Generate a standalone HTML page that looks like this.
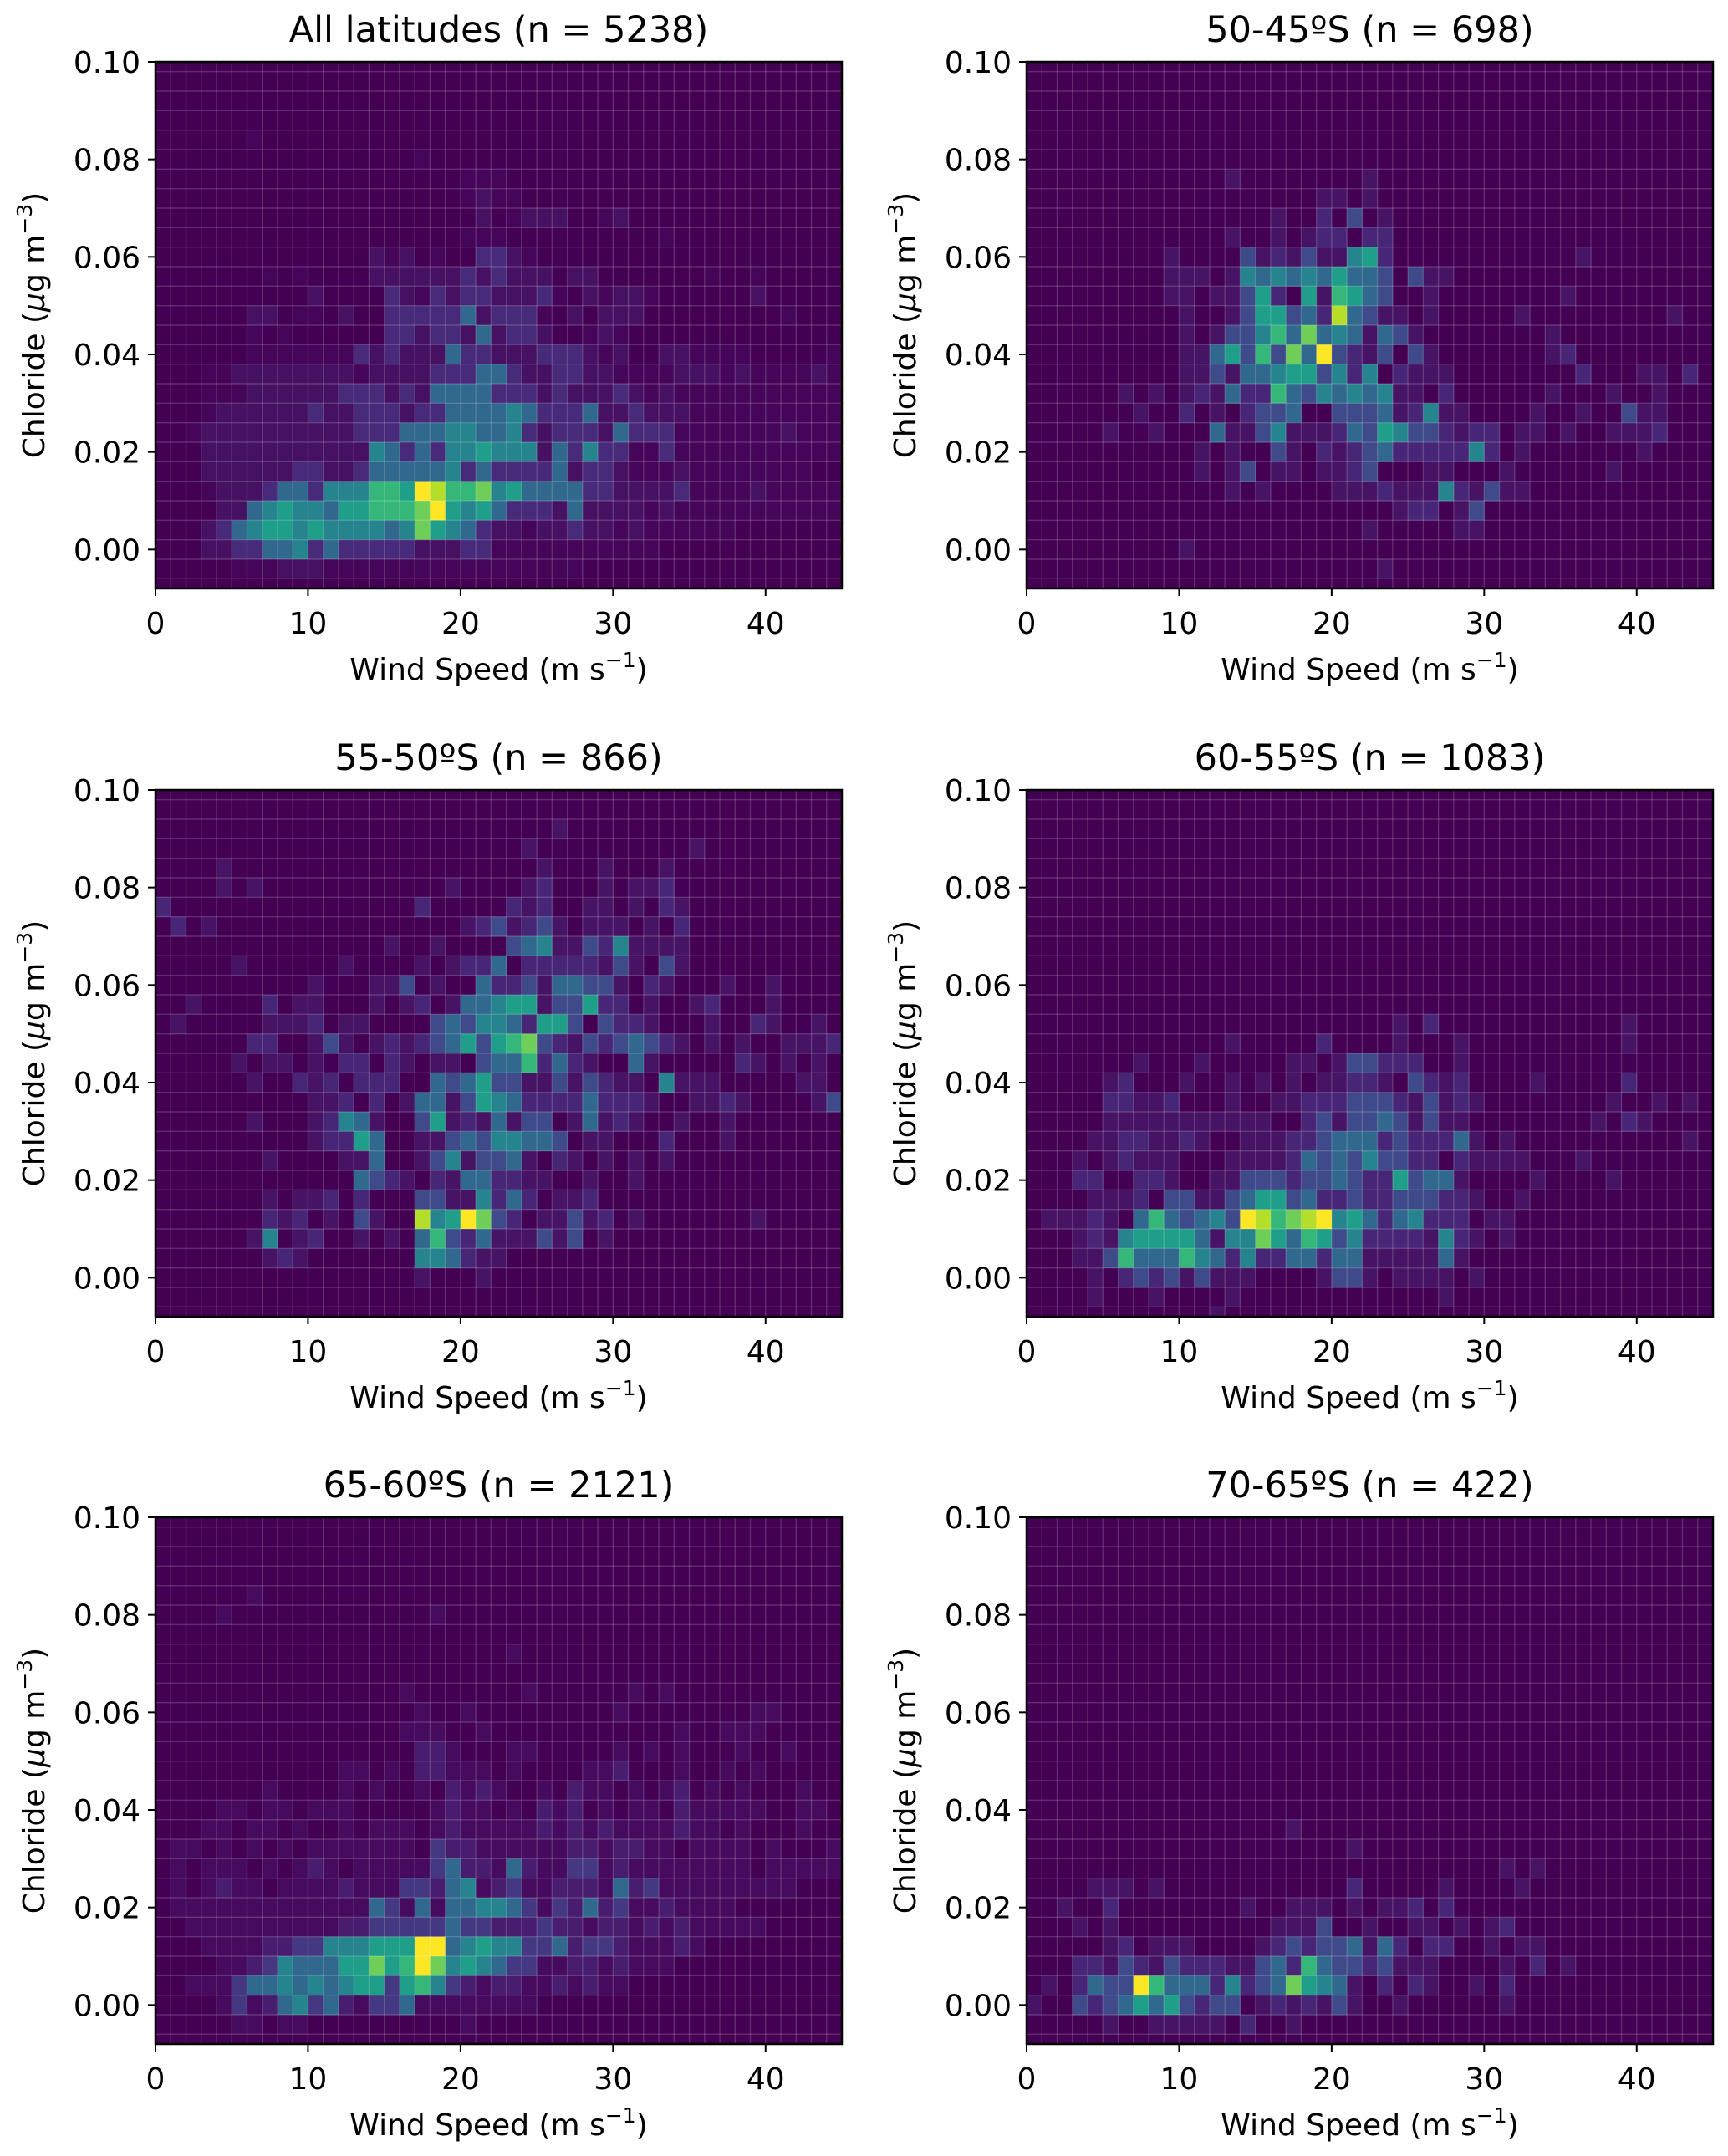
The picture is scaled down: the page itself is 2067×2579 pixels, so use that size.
<!DOCTYPE html>
<html><head><meta charset="utf-8">
<style>
html,body{margin:0;padding:0;background:#fff;}
svg{display:block;}
text{font-family:"DejaVu Sans","Liberation Sans",sans-serif;fill:#000;}
</style></head>
<body>
<svg id="s" xmlns="http://www.w3.org/2000/svg" width="2067" height="2579" viewBox="0 0 2067 2579">
<defs>
<clipPath id="c0"><rect x="186" y="74" width="821" height="630"/></clipPath>
<clipPath id="c1"><rect x="1228" y="74" width="821" height="630"/></clipPath>
<clipPath id="c2"><rect x="186" y="945" width="821" height="630"/></clipPath>
<clipPath id="c3"><rect x="1228" y="945" width="821" height="630"/></clipPath>
<clipPath id="c4"><rect x="186" y="1815" width="821" height="630"/></clipPath>
<clipPath id="c5"><rect x="1228" y="1815" width="821" height="630"/></clipPath>
</defs>
<g id="cells"></g>
<g font-size="43" text-anchor="middle">
<text x="596.5" y="50">All latitudes (n = 5238)</text>
<text x="1638.5" y="50">50-45ºS (n = 698)</text>
<text x="596.5" y="921">55-50ºS (n = 866)</text>
<text x="1638.5" y="921">60-55ºS (n = 1083)</text>
<text x="596.5" y="1791">65-60ºS (n = 2121)</text>
<text x="1638.5" y="1791">70-65ºS (n = 422)</text>
</g>
<g id="axes"></g>
</svg>
<script>
(function(){
var COL={'0':'#440154','1':'#471365','2':'#482677','3':'#3e4a89','4':'#30688e','5':'#25848e','6':'#1f9e89','7':'#35b779','8':'#6ece58','9':'#b5de2b','Y':'#fde725'};
var COLD={'0':'#440154','1':'#450559','2':'#471163','3':'#472a7a','4':'#30688e','5':'#25848e','6':'#1f9e89','7':'#35b779','8':'#6ece58','9':'#b5de2b','Y':'#fde725'};
var COLM={'0':'#440154','1':'#460b5e','2':'#481d6f','3':'#453882','4':'#30688e','5':'#25848e','6':'#1f9e89','7':'#35b779','8':'#6ece58','9':'#b5de2b','Y':'#fde725'};
var p1=[
"00000 00000 00000 00000 00000 00000 00000 00000 00000",
"00000 00000 00000 00000 00000 00000 00000 00000 00000",
"00000 00000 00000 00000 00000 00000 00000 00000 00000",
"00000 00000 00000 00000 00000 00000 00000 00000 00000",
"00000 01000 00000 00000 00000 00000 00000 00000 00000",
"00000 00000 00000 00100 00000 00000 00000 00000 00000",
"00000 00000 00000 00000 11100 00000 00000 00000 00000",
"00000 00000 00000 00000 12110 00000 00000 00000 00000",
"00000 00000 00000 00000 02012 22001 20000 00000 00000",
"00000 00000 00000 00000 11100 00000 00010 00000 00000",
"00000 00000 00002 12010 03321 00000 00000 00000 00000",
"00000 00101 00002 22222 32322 20220 00000 01001 00000",
"00000 00000 20000 32132 33222 31021 22100 00002 00000",
"00000 02201 10200 33333 42333 10202 22000 00000 01000",
"00000 01010 00000 33233 24233 20012 10000 00000 00000",
"00000 01111 11132 32224 33222 33321 20022 11110 00001",
"00011 22222 22212 22233 34432 23322 11112 22121 11121",
"00011 12222 22333 23244 44333 23222 32121 11111 11111",
"00012 22222 32233 32334 44454 33342 23222 11111 11111",
"00122 22222 22233 34445 54453 23332 43331 11111 12111",
"00022 22222 22225 43435 56555 24353 31131 11111 11111",
"00022 22223 32234 44445 34333 34233 21112 11111 11100",
"00012 22344 35557 76Y97 78564 44433 22223 11112 11111",
"00002 24565 54667 778Y6 56433 32422 22121 11111 11111",
"00023 45665 65555 45865 43221 22322 12111 11100 00000",
"00022 33445 34333 33222 33111 11111 11100 00000 00000",
"00000 11122 21111 11111 11111 11100 00000 00000 00000",
"00000 00000 00000 00000 00000 00000 00000 00000 00000"];
function dense(a){return a.map(function(s){return s.replace(/ /g,'');});}
function sparse(o){var r=[];for(var k=0;k<28;k++){var row=[];for(var c=0;c<45;c++)row.push('0');
 if(o[k]){o[k].split(/\s+/).forEach(function(p){if(!p)return;var q=p.split(':');row[+q[0]]=q[1];});}
 r.push(row.join(''));}return r;}
var p2=sparse({6:"13:1 22:1",7:"19:1 20:1 22:1",8:"16:1 19:2 21:3 23:1",9:"13:1 16:1 18:1 19:2 20:2 22:2 23:2",
10:"9:1 14:3 15:1 16:2 17:1 18:3 19:1 20:1 21:5 22:6 23:2 36:1",
11:"9:1 10:1 11:1 13:1 14:5 15:4 16:5 17:4 18:5 19:4 20:6 21:4 22:4 23:3 25:3 26:1 27:1",
12:"9:1 10:1 12:1 13:1 14:3 15:6 16:2 18:6 19:1 20:7 21:6 22:4 23:3 26:1 35:1",
13:"10:1 13:1 14:3 15:6 16:6 17:3 18:4 19:2 20:9 21:4 22:3 23:1 24:1 26:1 32:1 42:1",
14:"10:1 12:1 13:3 14:3 15:5 16:7 17:4 18:8 19:4 20:5 21:4 22:1 23:4 24:3 25:1 34:1",
15:"10:1 11:1 12:4 13:6 14:3 15:7 16:3 17:8 18:4 19:Y 20:3 21:2 22:1 23:3 25:3 26:1 34:1 35:2",
16:"10:1 11:1 12:3 13:1 14:4 15:4 16:5 17:6 18:6 19:3 20:5 21:2 22:5 24:2 25:1 26:1 27:1 36:2 40:1 41:1 43:2",
17:"6:1 8:1 10:1 11:2 12:1 13:4 14:2 15:2 16:7 17:4 18:3 19:5 20:4 21:5 22:4 23:5 24:1 25:1 27:2 34:1 38:1 41:1",
18:"7:1 10:2 12:1 14:2 15:3 16:3 17:4 20:3 21:3 22:3 23:4 24:1 25:2 26:5 27:1 28:1 33:1 36:1 39:3 40:1 41:1",
19:"5:1 8:1 12:4 13:1 14:1 15:3 16:5 17:1 18:1 19:1 20:2 21:4 22:3 23:6 24:5 25:3 26:3 27:2 28:1 29:2 30:2 32:1 33:1 35:1 38:1 39:1 40:1 41:2",
20:"11:1 13:1 16:3 17:1 19:2 20:1 21:2 22:3 23:4 24:2 25:2 26:2 27:2 28:2 29:5 30:2 32:1 40:1",
21:"11:1 13:1 14:3 16:1 17:1 19:1 20:1 21:2 22:3 26:1 27:1 31:1 38:1",
22:"13:1 15:1 20:1 21:1 22:1 23:2 24:1 25:1 26:1 27:5 28:2 29:1 30:3 31:1 32:1",
23:"24:1 25:2 26:2 28:1 29:3",24:"22:1 28:1 29:1",25:"10:1",26:"23:1"});
var p3=sparse({2:"26:1",3:"24:1 35:1",4:"4:1 25:1 29:1 33:1",
5:"4:1 6:1 19:1 24:1 25:2 29:1 31:1 32:1 33:2",
6:"0:2 17:2 23:2 24:1 25:2 28:1 29:1 31:1 33:2 34:1",
7:"1:2 3:1 20:1 21:2 22:3 23:1 24:2 25:3 26:1 28:1 29:1 30:1 32:1 34:2",
8:"15:1 18:1 23:3 24:4 25:5 26:1 27:1 28:3 29:2 30:5 31:1 32:1 33:1 34:1",
9:"5:1 12:1 17:1 19:1 20:2 21:2 22:4 24:2 25:2 26:2 27:2 28:2 29:1 30:3 31:1 33:3 34:1",
10:"10:1 14:1 15:1 16:3 18:1 21:4 22:2 23:2 24:3 25:1 26:4 27:4 28:3 29:3 30:1 32:2 33:1 37:1 40:1",
11:"2:1 7:2 9:1 10:1 14:1 16:1 17:2 19:1 20:4 21:4 22:5 23:6 24:6 25:1 26:3 27:3 28:6 29:2 30:2 32:1 35:1 36:2 40:1",
12:"1:1 7:1 8:1 9:1 10:2 12:1 13:1 18:3 19:4 20:3 21:5 22:5 23:4 24:2 25:6 26:6 27:3 29:3 30:2 31:2 32:1 36:1 39:2 40:1 43:1",
13:"6:2 7:2 10:1 11:3 12:1 14:1 15:2 16:1 17:2 18:3 19:4 20:6 21:3 22:6 23:7 24:8 25:3 26:2 27:1 28:3 29:2 30:3 31:4 32:3 33:2 34:1 36:1 38:1 41:1 42:1 43:1 44:2",
14:"5:1 7:1 8:1 10:1 12:2 13:2 15:2 16:1 18:1 19:1 21:3 22:4 23:4 24:7 25:2 26:4 27:2 28:1 31:4 32:1 38:2 39:1 41:1 43:1",
15:"6:1 9:2 10:1 11:2 13:2 14:2 15:2 18:4 19:3 20:4 21:6 22:3 23:3 24:1 25:1 26:3 27:1 28:3 29:2 30:1 31:1 33:5 34:1 35:1 36:1 42:1 43:1",
16:"10:1 11:1 12:2 14:2 16:1 17:4 18:4 19:1 20:3 21:6 22:5 23:4 24:2 25:2 26:2 27:2 28:4 29:2 30:2 31:2 32:1 35:1 36:1 37:2 38:1 43:1 44:3",
17:"6:1 10:1 11:2 12:5 13:4 14:1 17:3 18:6 19:1 20:2 21:1 22:4 23:1 24:3 25:3 27:1 28:4 29:1 30:2 31:1 34:1 37:1",
18:"10:1 11:2 12:2 13:6 14:4 17:1 18:1 19:3 20:4 21:3 22:5 23:5 24:4 25:4 26:3 28:1 29:1 33:2 37:1",
19:"7:1 12:1 13:1 14:4 17:1 18:3 19:5 20:1 21:3 22:3 23:4 24:1 26:2 27:1 29:1 31:1 33:1",
20:"13:4 14:3 15:2 16:1 18:2 19:1 20:4 21:4 22:2 23:2 24:1 25:1 28:1 31:1",
21:"7:1 9:1 10:1 11:2 13:2 17:3 18:3 19:1 20:1 21:5 22:2 23:4 24:2 26:1 27:1 28:2",
22:"7:2 8:1 9:2 11:1 13:3 14:1 17:9 18:5 19:6 20:Y 21:8 22:3 23:2 25:1 26:1 27:3 28:1 29:2 31:1 39:1",
23:"6:1 7:5 9:1 10:2 13:1 15:1 17:4 18:7 19:3 20:2 21:4 22:1 23:1 24:1 25:3 26:1 27:3 29:1",
24:"7:1 8:2 9:1 17:5 18:5 19:4 20:2 21:1 22:1",25:"17:1 21:1"});
var p4=sparse({12:"24:1 26:2 39:1",13:"13:1 19:2 24:1 28:1 39:1",
14:"7:1 11:1 17:1 18:1 20:1 21:3 22:3 23:2 24:2 25:2 28:1",
15:"5:1 6:2 10:1 13:1 15:1 17:1 19:1 20:1 21:2 22:2 23:1 25:3 26:2 27:1 28:2 33:1 39:2",
16:"5:2 6:2 7:1 8:1 9:2 13:1 16:1 17:1 18:2 19:2 20:2 21:3 22:3 23:3 24:2 25:1 26:3 27:1 28:2 29:1 38:1 41:1 43:1",
17:"5:1 6:1 7:1 8:1 9:1 10:1 11:1 12:1 13:1 14:1 15:1 18:2 19:3 20:1 21:3 22:3 23:4 24:3 25:1 26:3 27:1 28:1 37:1 39:2 40:1",
18:"4:1 5:1 6:2 7:2 8:1 9:1 10:2 11:1 14:1 15:1 16:1 17:2 18:2 19:3 20:4 21:4 22:4 23:2 24:3 25:2 26:2 27:2 28:4 29:1 31:1 43:1",
19:"3:1 5:1 6:2 7:1 8:1 9:1 13:1 14:1 15:1 16:1 17:2 18:4 19:3 20:4 21:3 22:5 23:3 24:3 25:2 26:2 28:2 29:1 30:1 31:1 32:1 36:1",
20:"3:2 4:2 7:2 8:2 9:1 12:1 13:1 14:3 15:3 16:3 17:2 18:3 19:3 20:4 21:3 22:2 23:2 24:6 25:3 26:4 27:4 28:1 33:1 38:1",
21:"4:1 5:1 6:1 7:2 9:3 10:3 11:1 12:1 13:3 14:4 15:6 16:6 17:3 18:4 19:2 20:2 21:3 22:2 23:2 24:3 25:3 26:3 27:2 28:2 29:1 32:1",
22:"1:1 2:1 3:1 4:2 5:1 7:4 8:7 9:4 10:3 11:4 12:5 13:3 14:Y 15:9 16:7 17:8 18:9 19:Y 20:5 21:6 22:4 23:2 24:4 25:5 26:2 27:2 28:2 30:1 31:1",
23:"3:1 4:2 5:1 6:5 7:6 8:6 9:6 10:6 11:4 12:1 13:5 14:5 15:8 16:6 17:4 18:7 19:6 20:3 21:5 22:2 23:2 24:2 25:2 26:1 27:5 28:2 29:1 31:1",
24:"3:1 4:1 5:3 6:7 7:4 8:4 9:4 10:7 11:5 12:4 13:2 14:5 15:2 16:2 17:4 18:4 19:2 20:4 21:4 22:1 23:1 24:1 25:1 26:1 27:4 28:1",
25:"4:1 6:2 7:3 8:2 9:3 10:1 11:3 12:1 13:1 14:1 19:1 20:3 21:3 22:1 24:1 25:1 26:1 27:1 29:1",
26:"4:1 8:1 13:1 27:1",27:"12:1"});
var p5=sparse({4:"6:1",5:"4:1 18:1",7:"23:1",9:"16:1 24:1 31:1 33:1",10:"17:1 20:1 30:1 39:1 40:1",
11:"16:1 17:1 18:1 21:1 34:1 37:1 38:1 39:1",
12:"17:2 18:2 19:1 23:1 24:1 30:1 32:1 34:1 38:1 41:1",
13:"12:1 13:1 15:1 17:2 18:2 19:1 20:1 21:1 23:1 28:1 29:1 30:2 34:1 37:1 39:1",
14:"7:1 12:1 14:1 17:1 19:2 20:1 21:2 22:1 25:1 27:2 28:1 29:1 31:1 33:1 34:2 36:1 38:1 42:1",
15:"4:1 5:1 7:1 8:1 10:1 11:1 12:1 18:1 19:2 20:1 21:1 23:1 25:2 26:1 27:2 29:1 31:1 32:1 34:2 35:1 36:1 37:1 38:1 39:1 42:1 43:1",
16:"3:1 4:1 6:1 7:1 9:1 12:1 14:1 15:1 16:1 18:1 19:2 20:1 21:1 22:1 23:1 24:1 25:2 26:1 27:2 28:1 29:2 30:1 31:1 32:1 33:1 34:2 35:1 36:1 38:1 42:1",
17:"1:1 2:1 4:1 6:1 8:1 10:1 11:1 12:1 13:1 14:1 15:1 16:1 18:3 19:2 20:2 21:1 22:1 23:1 24:1 25:1 26:1 27:2 28:2 29:1 30:2 31:2 32:1 33:1 35:1 36:1 37:1 38:1 40:1 44:1",
18:"1:1 3:1 4:1 5:1 7:1 9:1 10:2 11:1 13:1 14:1 15:1 16:1 17:1 18:3 19:4 20:2 21:2 22:1 23:4 24:2 25:1 26:1 27:3 28:3 29:1 30:2 31:1 32:1 33:1 34:1 35:1 36:1 37:1 38:1 40:1 41:1 42:1 43:1 44:1",
19:"1:1 3:1 4:2 5:1 6:1 8:1 9:1 10:1 11:1 12:2 13:1 14:1 15:1 16:3 17:3 18:2 19:4 20:5 21:1 22:2 23:3 24:1 25:1 26:2 27:2 28:2 29:1 30:4 31:2 32:3 33:1 34:1 35:1 36:1 37:1 38:1 39:1 40:1 41:1",
20:"1:1 2:1 3:1 4:1 5:1 6:1 7:1 8:1 9:1 10:1 11:1 12:1 13:1 14:4 15:3 16:1 17:4 18:1 19:4 20:4 21:5 22:5 23:4 24:3 25:1 26:3 27:2 28:4 29:2 30:3 31:1 32:1 33:2 34:1 35:1 36:1 37:1",
21:"2:1 3:1 4:1 5:1 6:1 7:1 8:1 9:1 10:1 11:1 12:2 13:2 14:3 15:3 16:3 17:3 18:3 19:4 20:3 21:3 22:2 23:2 24:2 25:3 26:2 27:2 28:1 29:2 30:2 31:1 32:2 33:1 34:2 35:1 36:1 37:1 38:1 39:1",
22:"3:1 4:1 5:1 6:1 7:2 8:2 9:3 10:3 11:5 12:5 13:5 14:6 15:6 16:6 17:Y 18:Y 19:4 20:5 21:6 22:5 23:5 24:3 25:3 26:4 27:2 28:3 29:3 30:2 31:1 32:1 33:1 34:2 35:1",
23:"4:1 5:1 6:2 7:3 8:5 9:4 10:4 11:4 12:6 13:6 14:8 15:6 16:7 17:Y 18:8 19:5 20:6 21:5 22:4 23:3 24:3 25:1 26:1 27:2 28:2 29:1 30:2 31:1 32:1 33:1",
24:"2:1 3:1 4:1 5:3 6:4 7:4 8:5 9:4 10:5 11:4 12:5 13:6 14:6 15:3 16:6 17:7 18:5 19:3 20:2 21:1 22:2 23:2 24:1 25:1 26:2 27:1 28:2 29:1 30:1",
25:"4:1 5:3 6:1 7:2 8:4 9:5 10:3 11:4 12:2 13:1 14:3 15:3 16:4 17:1 18:1 19:1 20:1 21:1 22:1 23:1 24:1",
26:"5:1 6:1 8:1 9:1 20:1"});
var p6=sparse({16:"17:1",17:"21:1",18:"31:1 33:1",19:"4:1 5:1 6:1 8:1 21:2 27:1 32:1",
20:"2:1 5:2 14:1 17:1 18:1 19:1 21:1 23:1 24:1 25:2 27:2",
21:"3:1 5:1 16:1 17:1 18:1 19:3 22:1 25:1 26:1 28:1 30:1 31:2",
22:"5:1 6:2 8:1 9:1 10:1 15:1 16:2 17:3 18:2 19:3 20:3 21:4 22:1 23:4 24:2 26:2 27:2 30:1 32:1 33:1",
23:"3:2 4:2 5:1 6:3 7:2 8:1 9:3 10:2 11:2 12:2 13:1 14:1 15:3 16:4 17:2 18:7 19:4 20:3 21:3 22:2 23:3 24:1 25:1 26:1 31:1 33:2 35:1",
24:"1:1 3:2 4:4 5:3 6:3 7:Y 8:7 9:4 10:4 11:4 12:2 13:5 14:2 15:3 16:4 17:8 18:6 19:5 20:4 21:1 23:2 25:2 26:1 29:1 31:2",
25:"0:1 3:3 4:2 5:3 6:4 7:6 8:4 9:6 10:3 11:2 12:3 13:3 15:1 16:2 17:1 18:2 19:1 20:3 21:1 24:1 31:1",
26:"5:1 8:1 9:1 10:1 11:1 12:1 14:2 17:1"});
var panels=[[186,74,dense(p1),COLD],[1228,74,p2,COL],[186,945,p3,COL],[1228,945,p4,COL],[186,1815,p5,COLM],[1228,1815,p6,COL]];
var W=821/45, H=630*0.004/0.108, out='', ax='';
panels.forEach(function(p,i){
 var L=p[0],T=p[1],d=p[2],CM=p[3];
 out+='<g clip-path="url(#c'+i+')"><rect x="'+L+'" y="'+T+'" width="821" height="630" fill="#440154"/>';
 for(var k=0;k<28;k++){var r=d[k]||'';for(var c=0;c<45;c++){var ch=r.charAt(c)||'0';if(ch!=='0'){
  out+='<rect x="'+(L+c*W).toFixed(2)+'" y="'+(T-H/2+k*H).toFixed(2)+'" width="'+(W+0.3).toFixed(2)+'" height="'+(H+0.3).toFixed(2)+'" fill="'+CM[ch]+'"/>';}}}
 for(var c=1;c<45;c++){var x=(L+c*W).toFixed(2);out+='<line x1="'+x+'" y1="'+T+'" x2="'+x+'" y2="'+(T+630)+'" stroke="rgba(255,255,255,0.17)" stroke-width="1.4"/>';}
 for(var k=1;k<28;k++){var y=(T-H/2+k*H).toFixed(2);out+='<line x1="'+L+'" y1="'+y+'" x2="'+(L+821)+'" y2="'+y+'" stroke="rgba(255,255,255,0.17)" stroke-width="1.4"/>';}
 out+='</g>';
 ax+='<rect x="'+L+'" y="'+T+'" width="821" height="630" fill="none" stroke="#000" stroke-width="2.5"/>';
 var yt=['0.00','0.02','0.04','0.06','0.08','0.10'];
 for(var j=0;j<6;j++){var y=T+(0.10-j*0.02)/0.108*630;
  ax+='<line x1="'+(L-9)+'" y1="'+y+'" x2="'+L+'" y2="'+y+'" stroke="#000" stroke-width="2"/>';
  ax+='<text x="'+(L-18)+'" y="'+(y+13)+'" font-size="36" text-anchor="end">'+yt[j]+'</text>';}
 for(var j=0;j<5;j++){var x=L+j*10/45*821;
  ax+='<line x1="'+x+'" y1="'+(T+630)+'" x2="'+x+'" y2="'+(T+639)+'" stroke="#000" stroke-width="2"/>';
  ax+='<text x="'+x+'" y="'+(T+684)+'" font-size="36" text-anchor="middle">'+(j*10)+'</text>';}
});
document.getElementById('cells').innerHTML=out;
document.getElementById('axes').innerHTML=ax;
})();
</script>
<svg style="position:absolute;left:0;top:0" width="2067" height="2579" xmlns="http://www.w3.org/2000/svg">
<style>text{font-family:"DejaVu Sans","Liberation Sans",sans-serif;fill:#000;}</style>
<g font-size="36" text-anchor="middle">
<text x="596.5" y="813">Wind Speed (m s<tspan font-size="25" dy="-15">−1</tspan><tspan dy="15">)</tspan></text>
<text x="1638.5" y="813">Wind Speed (m s<tspan font-size="25" dy="-15">−1</tspan><tspan dy="15">)</tspan></text>
<text x="596.5" y="1684">Wind Speed (m s<tspan font-size="25" dy="-15">−1</tspan><tspan dy="15">)</tspan></text>
<text x="1638.5" y="1684">Wind Speed (m s<tspan font-size="25" dy="-15">−1</tspan><tspan dy="15">)</tspan></text>
<text x="596.5" y="2554">Wind Speed (m s<tspan font-size="25" dy="-15">−1</tspan><tspan dy="15">)</tspan></text>
<text x="1638.5" y="2554">Wind Speed (m s<tspan font-size="25" dy="-15">−1</tspan><tspan dy="15">)</tspan></text>
<text transform="translate(53,389) rotate(-90)">Chloride (<tspan font-style="italic">μ</tspan>g m<tspan font-size="25" dy="-15">−3</tspan><tspan dy="15">)</tspan></text>
<text transform="translate(1095,389) rotate(-90)">Chloride (<tspan font-style="italic">μ</tspan>g m<tspan font-size="25" dy="-15">−3</tspan><tspan dy="15">)</tspan></text>
<text transform="translate(53,1260) rotate(-90)">Chloride (<tspan font-style="italic">μ</tspan>g m<tspan font-size="25" dy="-15">−3</tspan><tspan dy="15">)</tspan></text>
<text transform="translate(1095,1260) rotate(-90)">Chloride (<tspan font-style="italic">μ</tspan>g m<tspan font-size="25" dy="-15">−3</tspan><tspan dy="15">)</tspan></text>
<text transform="translate(53,2130) rotate(-90)">Chloride (<tspan font-style="italic">μ</tspan>g m<tspan font-size="25" dy="-15">−3</tspan><tspan dy="15">)</tspan></text>
<text transform="translate(1095,2130) rotate(-90)">Chloride (<tspan font-style="italic">μ</tspan>g m<tspan font-size="25" dy="-15">−3</tspan><tspan dy="15">)</tspan></text>
</g>
</svg>
</body></html>
